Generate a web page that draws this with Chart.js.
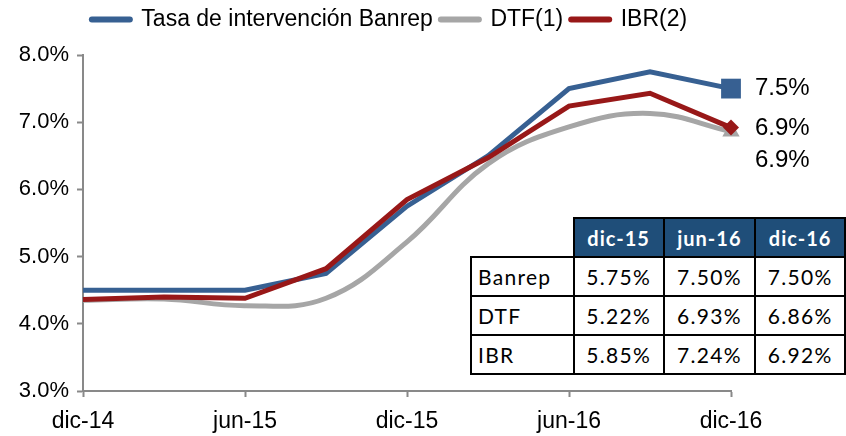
<!DOCTYPE html>
<html>
<head>
<meta charset="utf-8">
<script src="https://cdn.jsdelivr.net/npm/chart.js@4"></script>
<style>
  body { margin: 0; background: #fff; }
  #wrap { position: relative; width: 846px; height: 436px; }
  #tabla {
    position: absolute; left: 470px; top: 217px;
    border-collapse: collapse;
    font-family: Lato, sans-serif; font-size: 21px; letter-spacing: 1.3px;
    background: #fff;
  }
  #tabla td, #tabla th { border: 2px solid #000; padding: 0; height: 37px; }
  #tabla th { background: #1F4E79; color: #fff; font-weight: bold; text-align: center; font-size: 20px; letter-spacing: 1px; }
  #tabla th.vacio { background: transparent; border: none; }
  #tabla td { text-align: center; }
  #tabla td.nombre { text-align: left; padding-left: 6px; }
</style>
</head>
<body>
<div id="wrap">
  <canvas id="grafico" width="846" height="436"></canvas>
  <table id="tabla"></table>
</div>
<script>
const trimestres = ['dic-14', 'mar-15', 'jun-15', 'sep-15', 'dic-15', 'mar-16', 'jun-16', 'sep-16', 'dic-16'];
const banrep = [4.50, 4.50, 4.50, 4.75, 5.75, 6.50, 7.50, 7.75, 7.50];
const dtf    = [4.35, 4.37, 4.27, 4.38, 5.22, 6.38, 6.93, 7.13, 6.86];
const ibr    = [4.36, 4.40, 4.38, 4.82, 5.85, 6.47, 7.24, 7.43, 6.92];

const yTicks = [3, 4, 5, 6, 7, 8];

// tabla resumen
const tablaCols = ['dic-15', 'jun-16', 'dic-16'];
const tablaFilas = ['Banrep', 'DTF', 'IBR'];
const tablaValores = [
  ['5.75%', '7.50%', '7.50%'],
  ['5.22%', '6.93%', '6.86%'],
  ['5.85%', '7.24%', '6.92%'],
];

const tabla = document.getElementById('tabla');
const colW = [102, 88, 90, 88];
let html = '<tr><th class="vacio" style="width:' + colW[0] + 'px"></th>';
tablaCols.forEach((c, i) => { html += '<th style="width:' + colW[i + 1] + 'px">' + c + '</th>'; });
html += '</tr>';
tablaFilas.forEach((f, r) => {
  html += '<tr><td class="nombre">' + f + '</td>';
  tablaValores[r].forEach(v => { html += '<td>' + v + '</td>'; });
  html += '</tr>';
});
tabla.innerHTML = html;

const fuente = '"Liberation Sans", Arial, sans-serif';

// etiqueta del último valor de cada serie
const etiquetasFinales = {
  id: 'etiquetasFinales',
  afterDatasetsDraw(chart, args, opts) {
    const ctx = chart.ctx;
    ctx.save();
    ctx.font = '24px ' + fuente;
    ctx.fillStyle = '#000';
    ctx.textBaseline = 'middle';
    chart.data.datasets.forEach((ds, i) => {
      const meta = chart.getDatasetMeta(i);
      const last = meta.data[meta.data.length - 1];
      const val = ds.data[ds.data.length - 1];
      ctx.fillText(val.toFixed(1) + '%', last.x + 24, last.y + (opts.offsets[i] || 0));
    });
    ctx.restore();
  }
};

// la leyenda va un poco más abajo del borde y algo corrida a la derecha
const ajusteLeyenda = {
  id: 'ajusteLeyenda',
  beforeInit(chart) {
    const fit = chart.legend.fit;
    chart.legend.fit = function () {
      fit.call(this);
      this.height += 14;
    };
  },
  afterLayout(chart) {
    chart.legend.left += 19;
    chart.legend.right += 19;
  }
};

const ultimo = trimestres.length - 1;
const soloUltimo = (r) => (c) => c.dataIndex === ultimo ? r : 0;

const ejeGris = '#898989';

new Chart(document.getElementById('grafico'), {
  type: 'line',
  data: {
    labels: trimestres,
    datasets: [
      {
        label: 'Tasa de intervención Banrep',
        data: banrep,
        borderColor: '#376092',
        backgroundColor: '#376092',
        borderWidth: 5,
        tension: 0,
        pointStyle: 'rect',
        pointRadius: soloUltimo(14),
        pointBorderWidth: 0,
        order: 1,
      },
      {
        label: 'DTF(1)',
        data: dtf,
        borderColor: '#A6A6A6',
        backgroundColor: '#A6A6A6',
        borderWidth: 5,
        tension: 0.4,
        pointStyle: 'triangle',
        pointRadius: soloUltimo(10),
        pointBorderWidth: 0,
        order: 2,
      },
      {
        label: 'IBR(2)',
        data: ibr,
        borderColor: '#981818',
        backgroundColor: '#981818',
        borderWidth: 5,
        tension: 0,
        pointStyle: 'rectRot',
        pointRadius: soloUltimo(8),
        pointBorderWidth: 0,
        order: 0,
      },
    ],
  },
  options: {
    responsive: false,
    animation: false,
    layout: { padding: { left: 10, right: 115, top: 0, bottom: 0 } },
    plugins: {
      tooltip: { enabled: false },
      legend: {
        position: 'top',
        labels: {
          font: { family: fuente, size: 23 },
          color: '#000',
          usePointStyle: true,
          pointStyleWidth: 38,
          padding: 8,
          generateLabels(chart) {
            return chart.data.datasets.map((ds, i) => ({
              text: ds.label,
              fillStyle: ds.borderColor,
              strokeStyle: ds.borderColor,
              lineWidth: 6,
              lineCap: 'round',
              pointStyle: 'line',
              datasetIndex: i,
              hidden: false,
              fontColor: '#000',
            }));
          },
        },
      },
      etiquetasFinales: { offsets: { 0: 0, 1: 29, 2: 1 } },
    },
    scales: {
      x: {
        type: 'category',
        offset: false,
        afterFit: (s) => { s.height = 45; },
        border: { color: ejeGris, width: 2 },
        grid: {
          drawOnChartArea: false,
          tickLength: 6,
          tickWidth: 2,
          tickColor: (c) => c.index % 2 === 0 ? ejeGris : 'rgba(0,0,0,0)',
        },
        ticks: {
          autoSkip: false,
          maxRotation: 0,
          padding: 11,
          color: '#000',
          font: { family: fuente, size: 23 },
          callback: (v, i) => i % 2 === 0 ? trimestres[i] : '',
        },
      },
      y: {
        min: yTicks[0],
        max: yTicks[yTicks.length - 1],
        afterFit: (s) => { s.width = 73; },
        border: { color: ejeGris, width: 2 },
        grid: { drawOnChartArea: false, tickLength: 6, tickWidth: 2, color: ejeGris },
        ticks: {
          stepSize: 1,
          padding: 8,
          color: '#000',
          font: { family: fuente, size: 22 },
          callback: (v) => v.toFixed(1) + '%',
        },
      },
    },
  },
  plugins: [etiquetasFinales, ajusteLeyenda],
});
</script>
</body>
</html>
